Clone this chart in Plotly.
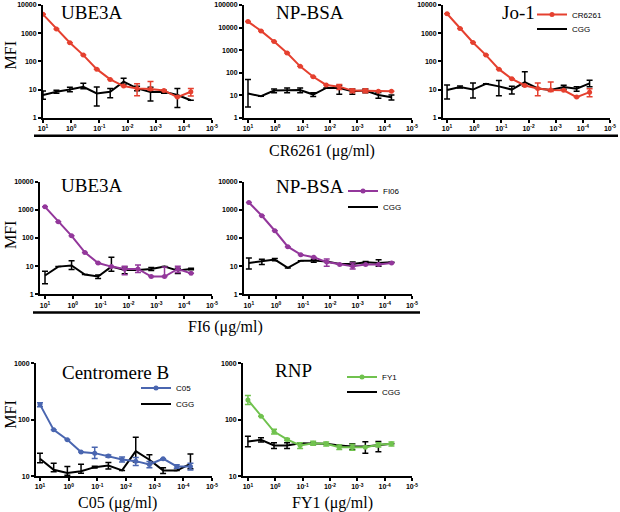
import math
import plotly.graph_objects as go

# ---------------- data ----------------
conc = [10, 3.333, 1.111, 0.3704, 0.1235, 0.04115, 0.01372, 0.004572,
        0.001524, 0.000508, 0.0001694, 0.00005645]

# Row 1: CR6261
cr_ube3a = [4650, 1400, 460, 167, 53, 23, 13.3, 11, 10.5, 9.3, 5.4, 8.4]
cr_ube3a_hi = [0, 0, 0, 0, 0, 0, 0, 5, 9, 0, 0, 2.5]
cr_ube3a_lo = [0, 0, 0, 0, 0, 0, 0, 5, 1, 0, 0, 2.5]
cgg_ube3a_cr = [6.4, 8.4, 10, 12.6, 7.3, 8.4, 19, 11, 8.2, 8.4, 6.4, 4.2]
cgg_ube3a_cr_hi = [2.5, 1, 2, 4, 5, 2.6, 6, 2, 4, 1, 4.6, 0]
cgg_ube3a_cr_lo = [1.9, 1, 1.6, 2, 4.7, 3.3, 4, 2, 4.3, 1, 4.1, 0]

cr_npbsa = [18400, 7100, 2400, 740, 190, 66, 28.6, 24, 16, 16, 15, 15]
cr_npbsa_hi = [0, 0, 0, 0, 0, 0, 0, 6, 3, 3, 0, 0]
cr_npbsa_lo = [0, 0, 0, 0, 0, 0, 0, 6, 3, 3, 0, 0]
cgg_npbsa_cr = [12, 9, 16, 17, 17, 10.7, 21, 21, 15, 16, 10.3, 8.2]
cgg_npbsa_cr_hi = [38, 0, 3, 4, 4, 2, 0, 6, 4, 3, 3, 2]
cgg_npbsa_cr_lo = [9, 0, 3, 4, 4, 2, 0, 10, 4, 3, 3, 2]

cr_jo1 = [4900, 1480, 470, 167, 53, 24, 14, 11, 9.6, 9.4, 5.4, 8.1]
cr_jo1_hi = [0, 0, 0, 0, 0, 0, 0, 6, 9, 0, 0, 2.7]
cr_jo1_lo = [0, 0, 0, 0, 0, 0, 0, 5, 1, 0, 0, 2.5]
cgg_jo1 = [9.6, 12.3, 10, 16, 13, 10, 18.5, 11, 9.6, 12.3, 10.7, 16.5]
cgg_jo1_hi = [5, 1, 7, 0, 8, 3, 24, 0, 0, 2, 2, 5]
cgg_jo1_lo = [5, 1, 5, 0, 7, 3, 5, 0, 0, 2, 2, 4]

# Row 2: FI6
fi_ube3a = [1280, 380, 120, 31, 13, 9.7, 8, 8, 4.3, 4.3, 8, 5.6]
fi_ube3a_hi = [0, 0, 0, 0, 0, 0, 2, 3, 0, 5, 2, 0]
fi_ube3a_lo = [0, 0, 0, 0, 0, 0, 3, 2, 0, 0, 2, 0]
cgg_ube3a_fi = [4.7, 9.7, 10.6, 5.1, 4.3, 9.7, 7.4, 7.4, 8, 9.7, 7, 8]
cgg_ube3a_fi_hi = [2, 0, 5, 0, 0.6, 11, 2, 0, 1, 0, 1.5, 0.5]
cgg_ube3a_fi_lo = [2.3, 0, 3, 0, 0.6, 3, 2, 0, 1, 0, 1.5, 0.5]

fi_npbsa = [1820, 615, 181, 49.5, 25.8, 20.9, 14, 11.5, 10, 11.5, 11.5, 13.1]
fi_npbsa_hi = [0, 0, 0, 0, 0, 0, 4, 0, 3, 0, 0, 0]
fi_npbsa_lo = [0, 0, 0, 0, 0, 0, 4, 0, 2, 0, 0, 0]
cgg_npbsa_fi = [13, 14.6, 17.2, 8.7, 15.8, 15.8, 14.6, 12.1, 12.1, 13.8, 13, 13.8]
cgg_npbsa_fi_hi = [6.5, 3, 1.5, 0, 0, 2, 0, 0, 2, 1, 4, 0]
cgg_npbsa_fi_lo = [5, 3, 1.5, 0, 0, 2, 0, 0, 2, 1, 3, 0]

# Row 3: C05 / FY1
c05_cenb = [185, 66, 44, 26.6, 25.5, 22.6, 19.7, 18.4, 16.1, 20.3, 14.8, 14.8]
c05_cenb_hi = [15, 0, 0, 0, 7, 1, 2, 3, 2, 0, 1, 2]
c05_cenb_lo = [15, 0, 0, 0, 5, 1, 2, 3, 2, 0, 1, 2]
cgg_cenb = [20.3, 12.9, 11.3, 12.2, 14.4, 15.4, 12.6, 27.7, 19.5, 12.6, 12.6, 16.5]
cgg_cenb_hi = [5, 4, 3.5, 4, 0.5, 2, 0, 21, 4.5, 1.5, 0, 8]
cgg_cenb_lo = [3, 1, 1, 1, 0.5, 2, 0, 10, 3, 1.5, 0, 3]

fy1_rnp = [224, 115, 61.6, 44.6, 34.9, 38.3, 37.3, 32.6, 32.6, 32.6, 35.9, 37.3]
fy1_rnp_hi = [44, 0, 6, 2, 4, 3, 3, 3, 4, 0, 3, 3]
fy1_rnp_lo = [38, 0, 6, 2, 4, 3, 3, 3, 4, 0, 3, 3]
cgg_rnp = [41, 44, 34.9, 34.9, 38.3, 38.3, 37.3, 34.9, 33.5, 33.5, 34.9, 37.3]
cgg_rnp_hi = [10, 4, 4, 4, 0, 0, 0, 0, 4, 7, 6, 0]
cgg_rnp_lo = [8, 4, 4, 4, 0, 0, 0, 0, 4, 8, 8, 0]

x_tickvals = [10, 1, 0.1, 0.01, 0.001, 0.0001, 0.00001]
x_ticktext = ["10<sup>1</sup>", "10<sup>0</sup>", "10<sup>-1</sup>", "10<sup>-2</sup>",
              "10<sup>-3</sup>", "10<sup>-4</sup>", "10<sup>-5</sup>"]
y_tickvals = [1, 10, 100, 1000, 10000, 100000]
y_ticktext = ["1", "10", "100", "1000", "10000", "100000"]

RED = "#E5402F"
PURPLE = "#93379B"
BLUE = "#4A66B0"
GREEN = "#70C24E"
BLACK = "#000000"

W, H = 620, 512

def px_x(p):
    return p / W

def px_y(p):
    return 1 - p / H

panels = [
    (cr_ube3a, cr_ube3a_hi, cr_ube3a_lo, RED, cgg_ube3a_cr, cgg_ube3a_cr_hi, cgg_ube3a_cr_lo,
     (43, 212), [1.0, -5], (4, 117), [0, 4], "UBE3A", (92, 12)),
    (cr_npbsa, cr_npbsa_hi, cr_npbsa_lo, RED, cgg_npbsa_cr, cgg_npbsa_cr_hi, cgg_npbsa_cr_lo,
     (244, 412), [1.146, -5], (4, 117), [0, 5], "NP-BSA", (310, 12)),
    (cr_jo1, cr_jo1_hi, cr_jo1_lo, RED, cgg_jo1, cgg_jo1_hi, cgg_jo1_lo,
     (443, 610), [1.15, -5], (4, 117), [0, 4], "Jo-1", (518, 12)),
    (fi_ube3a, fi_ube3a_hi, fi_ube3a_lo, PURPLE, cgg_ube3a_fi, cgg_ube3a_fi_hi, cgg_ube3a_fi_lo,
     (40, 212), [1.18, -5], (181, 294), [0, 4], "UBE3A", (92, 185)),
    (fi_npbsa, fi_npbsa_hi, fi_npbsa_lo, PURPLE, cgg_npbsa_fi, cgg_npbsa_fi_hi, cgg_npbsa_fi_lo,
     (244, 412), [1.18, -5], (181, 294), [0, 4], "NP-BSA", (310, 186)),
    (c05_cenb, c05_cenb_hi, c05_cenb_lo, BLUE, cgg_cenb, cgg_cenb_hi, cgg_cenb_lo,
     (36, 212), [1.14, -5], (363, 476), [1, 3], "Centromere B", (115, 372)),
    (fy1_rnp, fy1_rnp_hi, fy1_rnp_lo, GREEN, cgg_rnp, cgg_rnp_hi, cgg_rnp_lo,
     (243, 412), [1.18, -5], (363, 476), [1, 3], "RNP", (293, 370)),
]

fig = go.Figure()
layout = dict(template="none", width=W, height=H, margin=dict(l=0, r=0, t=0, b=0),
              paper_bgcolor="white", plot_bgcolor="white", showlegend=True,
              font=dict(family="Liberation Sans", color="black"))
annotations = []
tickfont = dict(family="Liberation Sans", size=7, color="black", weight="bold")

for i, (cv, chi, clo, col, gv, ghi, glo, xd, xr, yd, yr, title, tpos) in enumerate(panels):
    n = i + 1
    xa = "x" if n == 1 else f"x{n}"
    ya = "y" if n == 1 else f"y{n}"
    fig.add_trace(go.Scatter(
        x=conc, y=gv, mode="lines", xaxis=xa, yaxis=ya, showlegend=False,
        line=dict(color=BLACK, width=2),
        error_y=dict(type="data", symmetric=False, array=ghi, arrayminus=glo,
                     color=BLACK, thickness=1.5, width=3)))
    fig.add_trace(go.Scatter(
        x=conc, y=cv, mode="lines+markers", xaxis=xa, yaxis=ya, showlegend=False,
        line=dict(color=col, width=2), marker=dict(color=col, size=5),
        error_y=dict(type="data", symmetric=False, array=chi, arrayminus=clo,
                     color=col, thickness=1.5, width=3)))
    yvals = [v for v in y_tickvals if yr[0] <= math.log10(v) <= yr[1]]
    ytext = [y_ticktext[y_tickvals.index(v)] for v in yvals]
    xkey = "xaxis" if n == 1 else f"xaxis{n}"
    ykey = "yaxis" if n == 1 else f"yaxis{n}"
    layout[xkey] = dict(
        type="log", domain=[px_x(xd[0]), px_x(xd[1])], range=xr, anchor=ya,
        tickmode="array", tickvals=x_tickvals, ticktext=x_ticktext,
        showline=True, linecolor="black", linewidth=2, showgrid=False, zeroline=False,
        ticks="outside", ticklen=3, tickwidth=1.5, tickcolor="black", tickfont=tickfont)
    layout[ykey] = dict(
        type="log", domain=[px_y(yd[1]), px_y(yd[0])], range=yr, anchor=xa,
        tickmode="array", tickvals=yvals, ticktext=ytext,
        showline=True, linecolor="black", linewidth=2, showgrid=False, zeroline=False,
        ticks="outside", ticklen=3, tickwidth=1.5, tickcolor="black", tickfont=tickfont)
    annotations.append(dict(text=title, x=px_x(tpos[0]), y=px_y(tpos[1]), xref="paper", yref="paper",
                            xanchor="center", yanchor="middle", showarrow=False,
                            font=dict(family="Liberation Serif", size=19, color="black")))

legend_items = [
    ("CR6261", RED, True, 572, 14),
    ("CGG", BLACK, False, 572, 29),
    ("FI06", PURPLE, True, 383, 191),
    ("CGG", BLACK, False, 383, 207),
    ("C05", BLUE, True, 176, 388),
    ("CGG", BLACK, False, 176, 404),
    ("FY1", GREEN, True, 382, 377),
    ("CGG", BLACK, False, 382, 392),
]
for j, (name, col, mk, tx, ty) in enumerate(legend_items):
    lkey = "legend" if j == 0 else f"legend{j + 1}"
    fig.add_trace(go.Scatter(
        x=[None], y=[None], name=name, mode="lines+markers" if mk else "lines",
        line=dict(color=col, width=2), marker=dict(color=col, size=5),
        legend=lkey, showlegend=True))
    layout[lkey] = dict(x=px_x(tx - 40), y=px_y(ty), xanchor="left", yanchor="middle",
                        bgcolor="rgba(0,0,0,0)", borderwidth=0, itemwidth=30,
                        font=dict(family="Liberation Sans", size=8, color="black"))

for (txt, cx, cy) in [("CR6261 (μg/ml)", 322, 150), ("FI6 (μg/ml)", 225, 327),
                      ("C05 (μg/ml)", 117, 503), ("FY1 (μg/ml)", 332, 503)]:
    annotations.append(dict(text=txt, x=px_x(cx), y=px_y(cy), xref="paper", yref="paper",
                            xanchor="center", yanchor="middle", showarrow=False,
                            font=dict(family="Liberation Serif", size=16, color="black")))
for cy in [55, 235, 415]:
    annotations.append(dict(text="MFI", x=px_x(10.5), y=px_y(cy), xref="paper", yref="paper",
                            xanchor="center", yanchor="middle", showarrow=False, textangle=-90,
                            font=dict(family="Liberation Serif", size=16, color="black")))

layout["annotations"] = annotations
layout["shapes"] = [
    dict(type="line", xref="paper", yref="paper", x0=px_x(34), x1=px_x(618),
         y0=px_y(135), y1=px_y(135), line=dict(color="black", width=2.5)),
    dict(type="line", xref="paper", yref="paper", x0=px_x(33), x1=px_x(420),
         y0=px_y(312), y1=px_y(312), line=dict(color="black", width=2.5)),
]
fig.update_layout(**layout)
fig.write_html("out.html", config={"displayModeBar": False},
               post_script="document.body.style.margin='0px';")
